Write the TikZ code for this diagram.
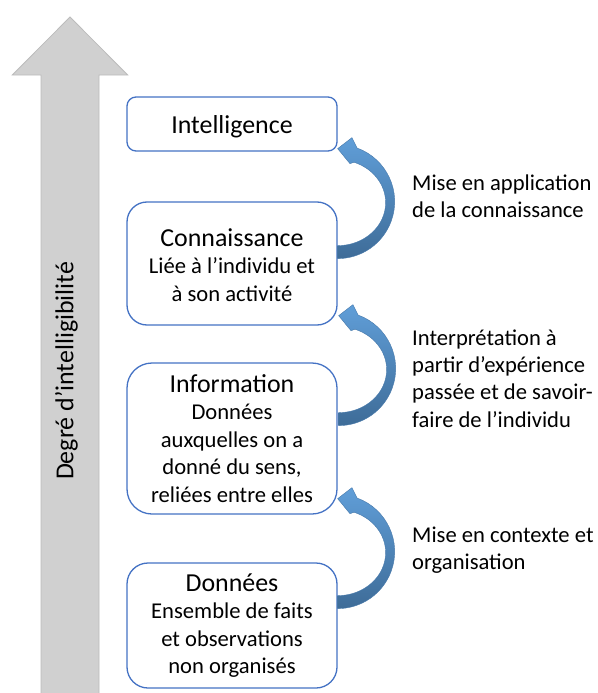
\documentclass[tikz,border=0pt]{standalone}
\usepackage{fontspec}
\setmainfont{Carlito}
\usetikzlibrary{calc}
\definecolor{boxblue}{RGB}{68,114,196}
\definecolor{arrtop}{RGB}{96,158,216}
\definecolor{arrbot}{RGB}{62,108,152}
\definecolor{arrline}{RGB}{70,120,170}
\definecolor{grayfill}{RGB}{208,208,208}
\definecolor{grayline}{RGB}{188,188,188}
\newcommand\ttlfont{\fontsize{25.9pt}{31pt}\selectfont}
\newcommand\bdyfont{\fontsize{22.6pt}{27.4pt}\selectfont}
\tikzset{
  levelbox/.style={draw=boxblue, line width=1.3pt, fill=white, minimum width=210pt,
    align=center, inner sep=0pt, font=\bdyfont},
  sidelabel/.style={anchor=base west, align=left, inner sep=0pt, font=\bdyfont},
  bendarrow/.pic={
    \path[top color=arrtop, bottom color=arrbot, draw=arrline, line width=0.4pt]
      (0,0) -- (14.3,11) -- (19.5,0.6)
      arc[start angle=70, end angle=-90, radius=57]
      -- (0,-97)
      arc[start angle=-90, end angle=70, x radius=48, y radius=43]
      -- (12.3,-15) -- cycle;
  }
}
\begin{document}
\begin{tikzpicture}[x=1pt, y=1pt]
\useasboundingbox (0,0) rectangle (597,-693);
% big grey arrow
\path[fill=grayfill, draw=grayline, line width=0.8pt]
  (70,-17) -- (127.7,-75) -- (99,-75) -- (99,-694) -- (41,-694) -- (41,-75) -- (12.3,-75) -- cycle;
\node[rotate=90, anchor=base, inner sep=0pt, font=\ttlfont] (axis) at (73.3,-371) {Degré d’intelligibilité};
% boxes
\node[levelbox, minimum height=54pt, rounded corners=9pt] (intel) at (232,-124) {\ttlfont\rule{0pt}{23pt}Intelligence};
\node[levelbox, minimum height=123pt, rounded corners=20pt] (conn) at (232,-263.5)
  {{\ttlfont\rule{0pt}{21pt}Connaissance}\\Liée à l’individu et\\à son activité};
\node[levelbox, minimum height=151pt, rounded corners=25pt] (info) at (232,-438.5)
  {{\ttlfont Information}\\Données\\auxquelles on a\\donné du sens,\\reliées entre elles};
\node[levelbox, minimum height=125pt, rounded corners=21pt] (data) at (232,-625.5)
  {{\ttlfont Données}\\Ensemble de faits\\et observations\\non organisés};
% curved arrows
\pic at ($(intel.south east)+(0,3)$) {bendarrow};
\pic at ($(conn.south east)+(1,10)$) {bendarrow};
\pic at ($(info.south east)+(0,16)$) {bendarrow};
% labels (anchor = baseline of the last line)
\node[sidelabel] (l1) at (412,-217.4) {Mise en application\\de la connaissance};
\node[sidelabel] (l2) at (412,-427.2) {Interprétation à\\partir d’expérience\\passée et de savoir-\\faire de l’individu};
\node[sidelabel] (l3) at (412,-569.4) {Mise en contexte et\\organisation};
\end{tikzpicture}
\end{document}
